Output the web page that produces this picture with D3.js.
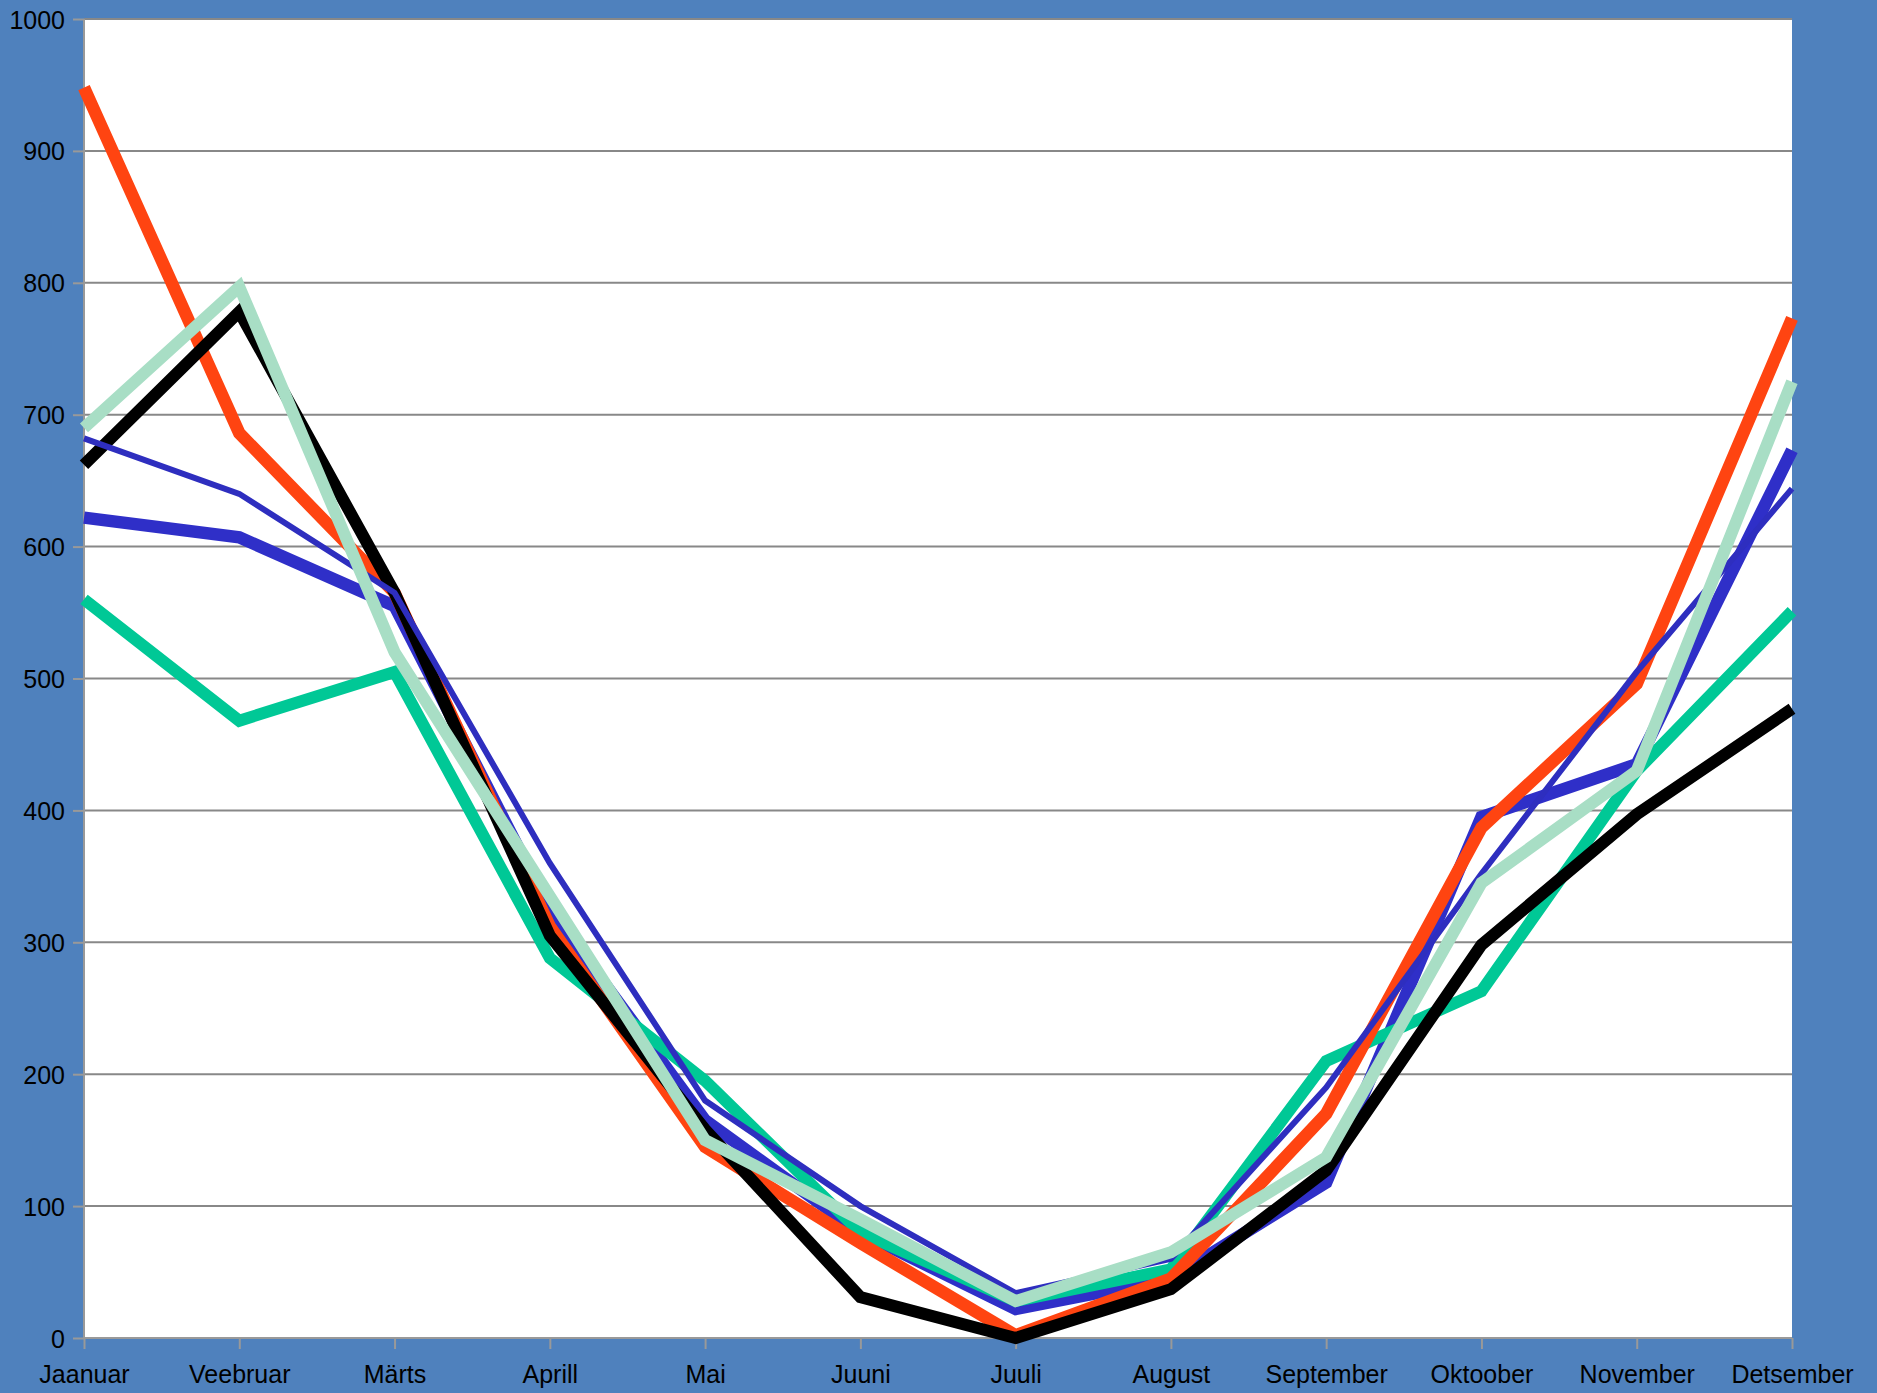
<!DOCTYPE html>
<html>
<head>
<meta charset="utf-8">
<script src="https://cdn.jsdelivr.net/npm/d3@7"></script>
<style>
  body { margin: 0; background: #4f81bd; }
  svg { display: block; }
  text { font-family: "Liberation Sans", Arial, sans-serif; }
</style>
</head>
<body>
<div id="chart"></div>
<script>
const months = ["Jaanuar", "Veebruar", "Märts", "Aprill", "Mai", "Juuni", "Juuli", "August", "September", "Oktoober", "November", "Detsember"];
const yTicks = [0, 100, 200, 300, 400, 500, 600, 700, 800, 900, 1000];

const thickBlue = [622, 607, 555, 325, 165, 80, 22, 45, 118, 395, 435, 673];
const teal = [560, 468, 505, 288, 195, 80, 28, 52, 210, 263, 430, 551];
const red = [948, 686, 565, 312, 145, 72, 2, 45, 170, 387, 496, 773];
const black = [662, 778, 565, 305, 158, 31, 0, 37, 127, 298, 397, 477];
const thinBlue = [682, 640, 565, 360, 180, 100, 34, 60, 190, 352, 505, 644];
const lightGreen = [690, 797, 520, 335, 150, 90, 28, 65, 137, 345, 430, 725];

const series = [
  {values: thickBlue, color: "#2f2fc8", width: 12.5},
  {values: teal, color: "#00c896", width: 12},
  {values: red, color: "#ff4411", width: 12.5},
  {values: black, color: "#000000", width: 12},
  {values: thinBlue, color: "#2e2ebf", width: 6},
  {values: lightGreen, color: "#a8dec5", width: 12}
];

const W = 1877, H = 1393;
const margin = {top: 19, right: 85, bottom: 55, left: 84};
const width = W - margin.left - margin.right;
const height = H - margin.top - margin.bottom;

const x = d3.scalePoint().domain(months).range([0, width]);
const y = d3.scaleLinear().domain([0, 1000]).range([height, 0]);

const svg = d3.select("#chart").append("svg")
  .attr("width", W).attr("height", H);

svg.append("rect").attr("width", W).attr("height", H).attr("fill", "#4f81bd");

const g = svg.append("g")
  .attr("transform", "translate(" + margin.left + "," + margin.top + ")");

g.append("rect").attr("width", width).attr("height", height).attr("fill", "#fff");

// gridlines
g.selectAll(".grid").data(yTicks.filter(d => d > 0)).enter().append("line")
  .attr("x1", 0).attr("x2", width)
  .attr("y1", d => y(d)).attr("y2", d => y(d))
  .attr("stroke", "#888").attr("stroke-width", 2);

const yAxis = g.append("g")
  .call(d3.axisLeft(y).tickValues(yTicks).tickSize(11).tickPadding(8).tickFormat(d3.format("d")));
const xAxis = g.append("g")
  .attr("transform", "translate(0," + height + ")")
  .call(d3.axisBottom(x).tickSize(11).tickPadding(16));

[yAxis, xAxis].forEach(a => {
  a.selectAll("path, line").attr("stroke", "#999").attr("stroke-width", 2);
  a.selectAll("text").attr("fill", "#000").style("font-size", "25px")
    .style("font-family", "'Liberation Sans', Arial, sans-serif");
});
yAxis.selectAll("text").attr("dy", "0.36em");
yAxis.select(".domain").attr("d", "M0,0V" + height);
xAxis.select(".domain").attr("d", "M0,0H" + width);

const line = d3.line()
  .x((d, i) => x(months[i]))
  .y(d => y(d));

g.selectAll(".series").data(series).enter().append("path")
  .attr("d", d => line(d.values))
  .attr("fill", "none")
  .attr("stroke", d => d.color)
  .attr("stroke-width", d => d.width)
  .attr("stroke-linejoin", "miter")
  .attr("stroke-linecap", "butt");
</script>
</body>
</html>
